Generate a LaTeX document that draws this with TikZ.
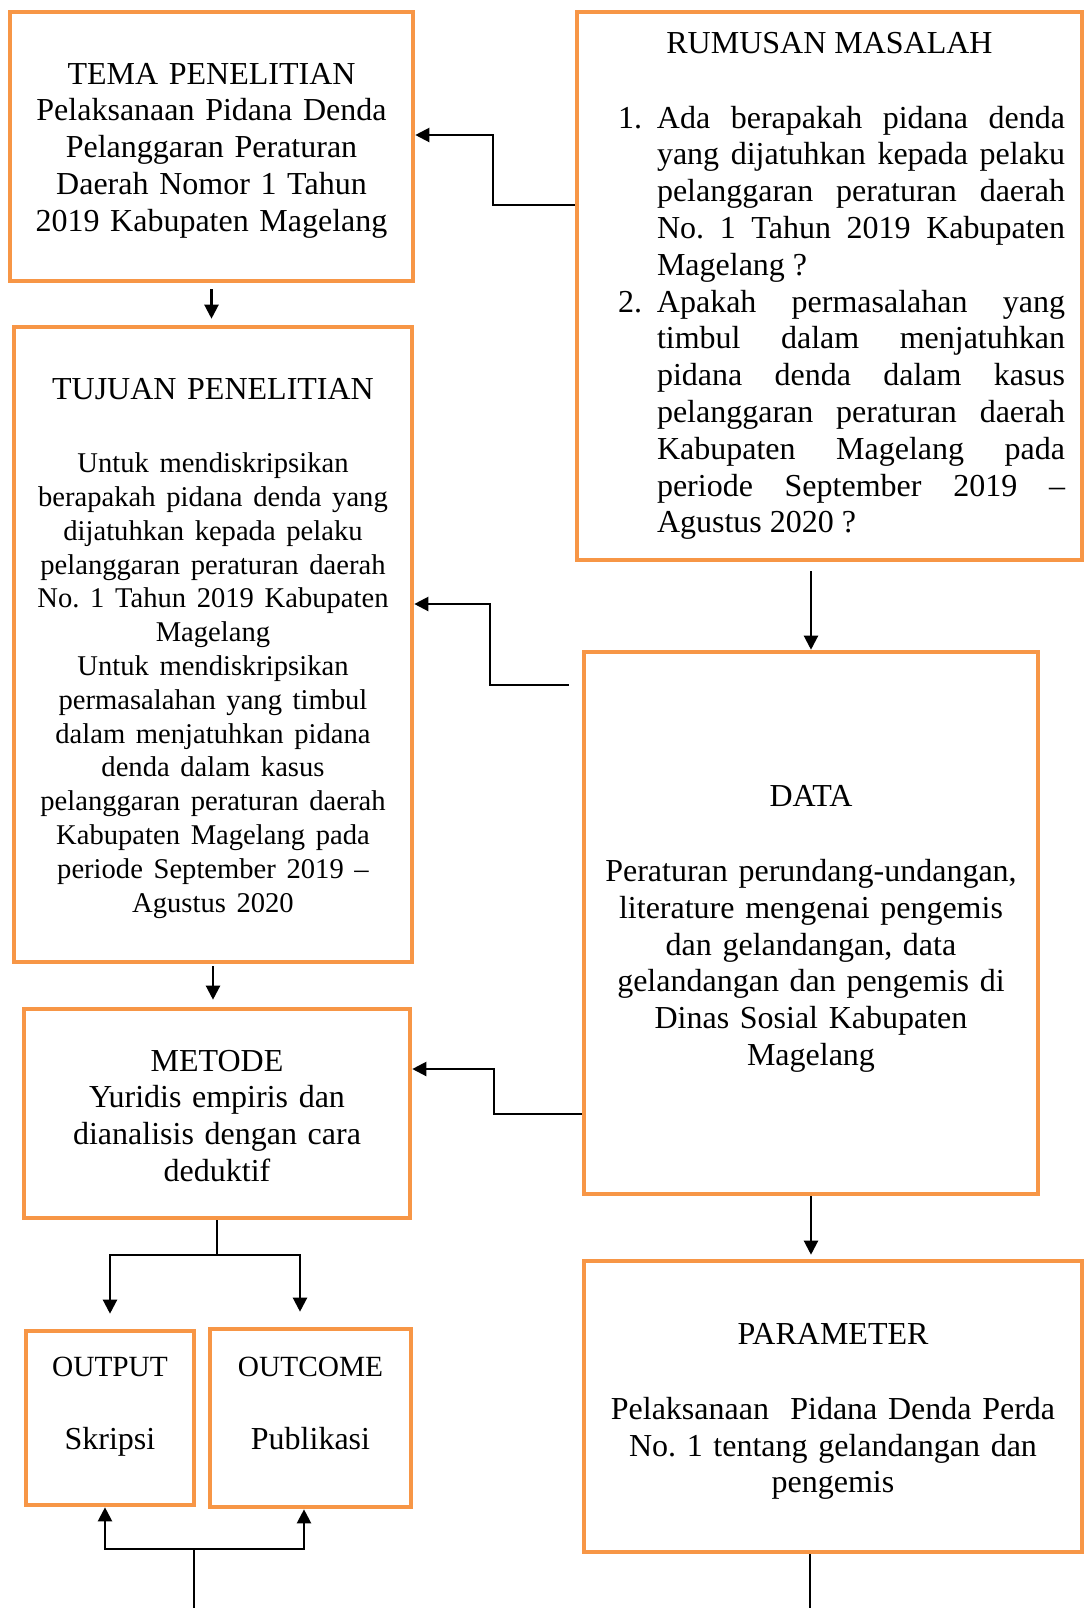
\documentclass[tikz,border=0pt]{standalone}
\usepackage{fontspec}
\setmainfont{Liberation Serif}
\usepackage{tikz}
\usetikzlibrary{arrows.meta}
\definecolor{boxorange}{HTML}{F79646}
\hyphenpenalty=10000

\begin{document}
\begin{tikzpicture}[x=0.5pt,y=-0.5pt,>={Triangle[length=7pt,width=7pt]},line width=1.1pt,
                    main node/.style={rectangle,draw=boxorange,line width=2.3pt,align=center,
                    inner sep=2pt,font=\fontsize{16}{18.4}\selectfont}]
  \useasboundingbox (0,0) rectangle (1084,1608);

  \node[main node,minimum width=201.5pt,minimum height=134.5pt,text width=195pt] (tema) at (211.5,146.5)
    {\rule{0pt}{14.6pt}TEMA PENELITIAN\\Pelaksanaan Pidana Denda\\Pelanggaran Peraturan\\Daerah Nomor 1 Tahun\\2019 Kabupaten Magelang};
  \node[main node,align=justify,minimum width=252.5pt,minimum height=274pt,text width=235.5pt] (rumusan) at (829.5,286)
    {\tolerance=10000
     {\centering RUMUSAN MASALAH\par}\vspace{19pt}
     \hangindent=31.5pt\hangafter=0\noindent\llap{1.\hspace{7.5pt}}Ada berapakah pidana denda\linebreak
     yang dijatuhkan kepada pelaku\linebreak pelanggaran peraturan daerah\linebreak
     No.\ 1 Tahun 2019 Kabupaten\linebreak Magelang~?\par
     \hangindent=31.5pt\hangafter=0\noindent\llap{2.\hspace{7.5pt}}Apakah permasalahan yang\linebreak
     timbul dalam menjatuhkan\linebreak pidana denda dalam kasus\linebreak
     pelanggaran peraturan daerah\linebreak Kabupaten Magelang pada\linebreak
     periode September 2019 --\linebreak Agustus 2020~?\par};
  \node[main node,minimum width=199pt,minimum height=317.5pt,text width=190pt] (tujuan) at (213,644.5)
    {\rule{0pt}{14.6pt}TUJUAN PENELITIAN\par\vspace{19.5pt}
     {\fontsize{14.3}{16.9}\selectfont Untuk mendiskripsikan\\berapakah pidana denda yang\\dijatuhkan kepada pelaku\\
      pelanggaran peraturan daerah\\No.\ 1 Tahun 2019 Kabupaten\\Magelang\\Untuk mendiskripsikan\\
      permasalahan yang timbul\\dalam menjatuhkan pidana\\denda dalam kasus\\pelanggaran peraturan daerah\\
      Kabupaten Magelang pada\\periode September 2019 --\\Agustus 2020\par}};
  \node[main node,minimum width=227pt,minimum height=271pt,text width=215pt] (data) at (811,923)
    {\rule{0pt}{16.6pt}DATA\par\vspace{19pt}
     Peraturan perundang-undangan,\\literature mengenai pengemis\\dan gelandangan, data\\
     gelandangan dan pengemis di\\Dinas Sosial Kabupaten\\Magelang};
  \node[main node,minimum width=193pt,minimum height=104.5pt,text width=185pt] (metode) at (217,1113.5)
    {\rule{0pt}{13pt}METODE\\Yuridis empiris dan\\dianalisis dengan cara\\deduktif};
  \node[main node,minimum width=84pt,minimum height=87pt,text width=78pt] (output) at (110,1418)
    {{\fontsize{14.67}{16.9}\selectfont OUTPUT\par}\vspace{18pt}Skripsi\par\vspace{-3.4pt}\mbox{}};
  \node[main node,minimum width=100.5pt,minimum height=89pt,text width=94pt] (outcome) at (310.5,1418)
    {{\fontsize{14.67}{16.9}\selectfont OUTCOME\par}\vspace{18pt}Publikasi\par\vspace{-3.4pt}\mbox{}};
  \node[main node,minimum width=249pt,minimum height=145.5pt,text width=240pt] (parameter) at (833,1406.5)
    {\rule{0pt}{15.6pt}PARAMETER\par\vspace{19pt}
     Pelaksanaan\ \ Pidana Denda Perda\\No.\ 1 tentang gelandangan dan\\pengemis};

  \coordinate (mfork) at (217,1255);
  \coordinate (below) at (194,1608);
  \coordinate (ofork) at (194,1549);
  \coordinate (pend) at (810,1608);

  % arrows between the boxes
  \draw[->] ([yshift=40.5pt]rumusan.west) -- ++(-82,0) |- ([yshift=5.75pt]tema.east);
  \draw[->,shorten <=3pt,shorten >=3pt] (tema.south) -- (tema.south |- tujuan.north);
  \draw[->,shorten <=4.5pt] (data.north |- rumusan.south) -- (data.north);
  \draw[->,shorten <=6.5pt] ([yshift=119pt]data.west) -- ++(-92,0) |- ([yshift=20.25pt]tujuan.east);
  \draw[->] ([yshift=-95.5pt]data.west) -- ++(-88,0) |- ([yshift=22.25pt]metode.east);
  \draw[->,shorten <=1pt,shorten >=3.5pt] (tujuan.south) -- (tujuan.south |- metode.north);
  \draw[->,shorten >=2pt] (data.south) -- (data.south |- parameter.north);

  \draw (metode.south) -- (mfork);
  \draw[->,shorten >=7.5pt] (mfork) -| (output.north);
  \draw[->,shorten >=7.5pt] (mfork) -| ([xshift=-5.25pt]outcome.north);

  \draw (below) -- (ofork);
  \draw[->] (ofork) -| ([xshift=-2.5pt]output.south);
  \draw[->] (ofork) -| ([xshift=-3.25pt]outcome.south);
  \draw (pend |- parameter.south) -- (pend);
\end{tikzpicture}
\end{document}
